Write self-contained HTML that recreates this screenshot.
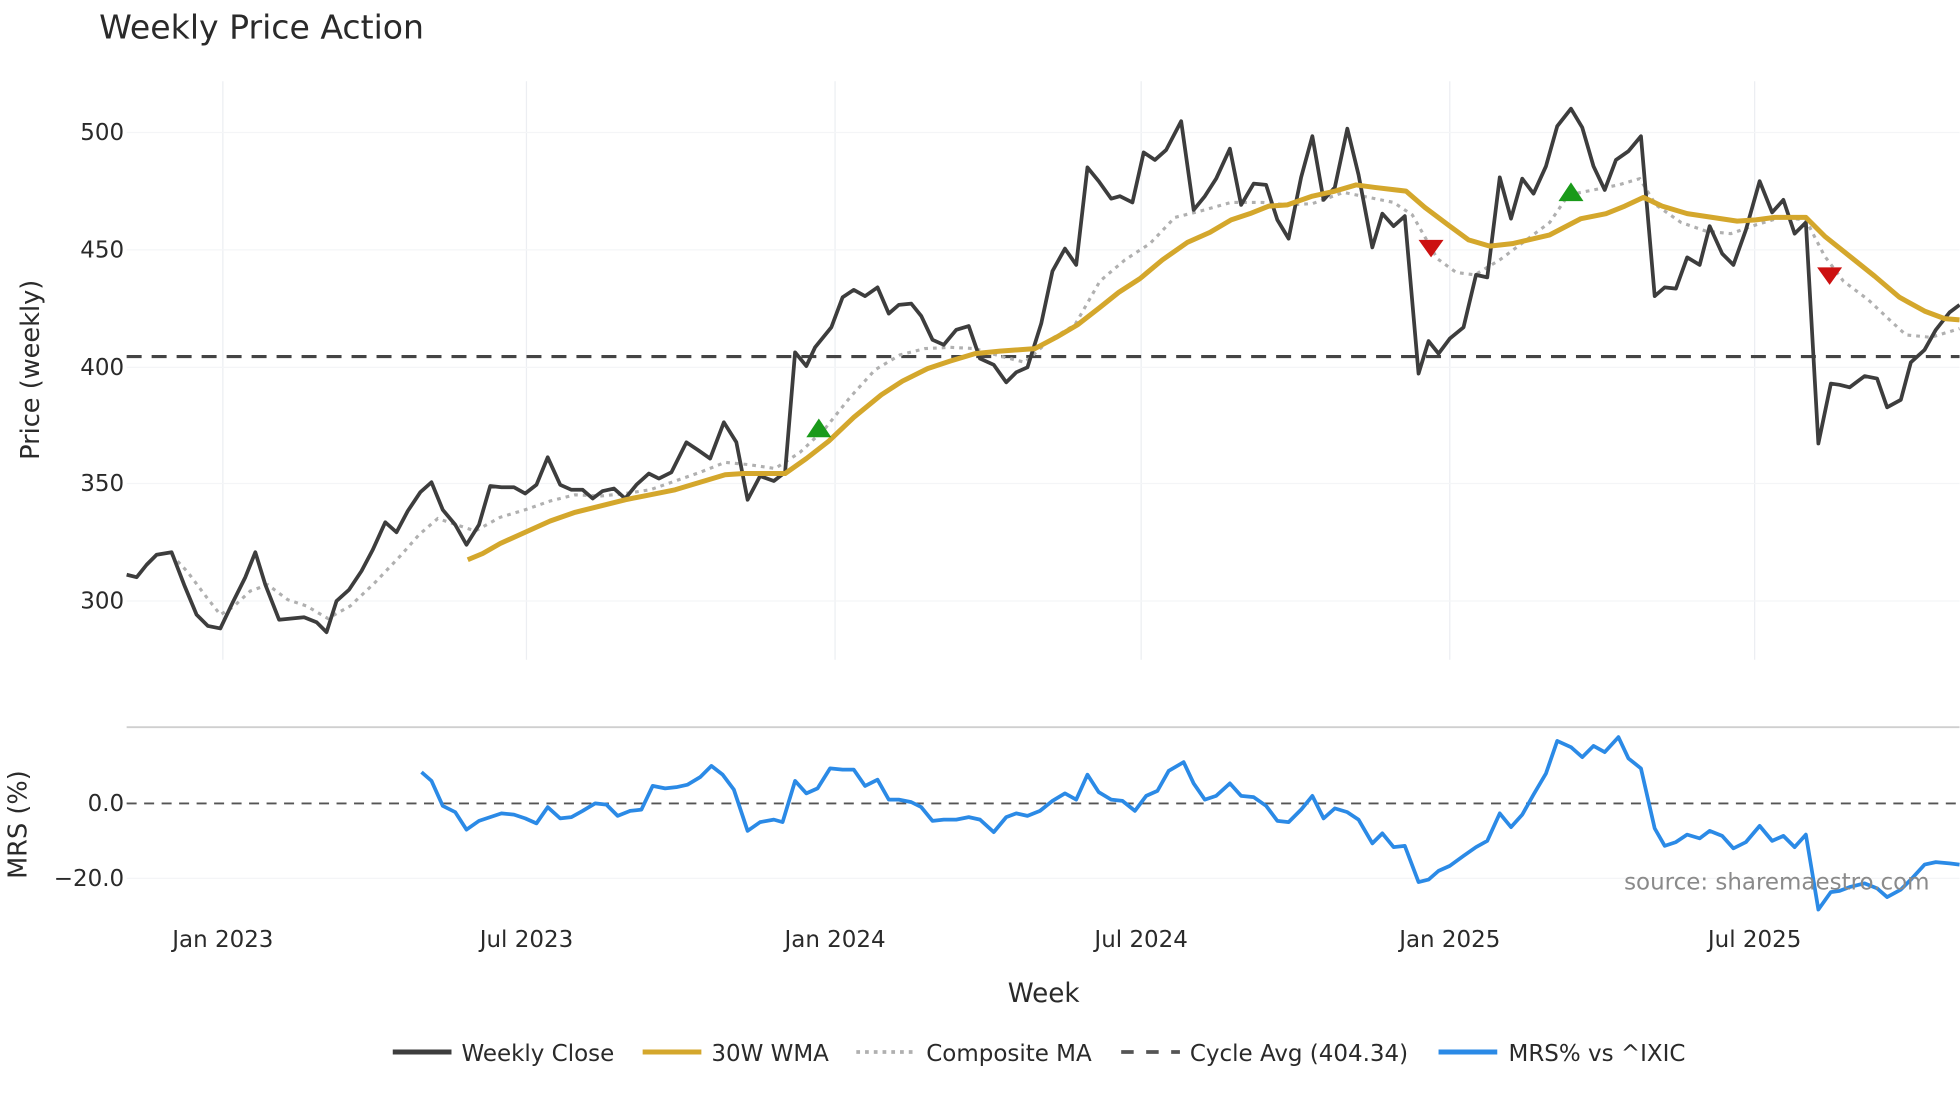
<!DOCTYPE html>
<html><head><meta charset="utf-8"><style>
html,body{margin:0;padding:0;background:#fff;}
svg{display:block;font-family:"DejaVu Sans","Liberation Sans",sans-serif;}
</style></head><body>
<svg width="1960" height="1102" viewBox="0 0 1568 882" xmlns="http://www.w3.org/2000/svg">
<rect width="1568" height="882" fill="#fff"/>
<text x="79" y="31" font-size="26.5" fill="#2a2a2a">Weekly Price Action</text>
<!-- grid -->
<g stroke="#eceef2" stroke-width="1">
<line x1="178" y1="65" x2="178" y2="528"/><line x1="421" y1="65" x2="421" y2="528"/>
<line x1="668" y1="65" x2="668" y2="528"/><line x1="913" y1="65" x2="913" y2="528"/>
<line x1="1160" y1="65" x2="1160" y2="528"/><line x1="1404" y1="65" x2="1404" y2="528"/>
</g>
<g stroke="#f4f5f7" stroke-width="1">
<line x1="101" y1="106" x2="1568" y2="106"/><line x1="101" y1="200" x2="1568" y2="200"/>
<line x1="101" y1="294" x2="1568" y2="294"/><line x1="101" y1="387" x2="1568" y2="387"/>
<line x1="101" y1="481" x2="1568" y2="481"/>
<line x1="101" y1="703" x2="1568" y2="703"/>
</g>
<line x1="101" y1="582" x2="1568" y2="582" stroke="#cfcfcf" stroke-width="1.5"/>
<!-- y labels -->
<g font-size="18.4" fill="#2a2a2a" text-anchor="end">
<text x="99" y="112">500</text><text x="99" y="206">450</text><text x="99" y="300">400</text>
<text x="99" y="393">350</text><text x="99" y="487">300</text>
<text x="99" y="649">0.0</text><text x="99" y="709">−20.0</text>
</g>
<text transform="translate(31,296) rotate(-90)" font-size="20.5" fill="#2a2a2a" text-anchor="middle">Price (weekly)</text>
<text transform="translate(21,660) rotate(-90)" font-size="20.5" fill="#2a2a2a" text-anchor="middle">MRS (%)</text>
<g font-size="18.4" fill="#2a2a2a" text-anchor="middle">
<text x="178" y="758">Jan 2023</text><text x="421" y="758">Jul 2023</text><text x="668" y="758">Jan 2024</text>
<text x="913" y="758">Jul 2024</text><text x="1160" y="758">Jan 2025</text><text x="1404" y="758">Jul 2025</text>
</g>
<text x="835" y="802" font-size="21" fill="#2a2a2a" text-anchor="middle">Week</text>
<!-- cycle avg -->
<line x1="101" y1="285.4" x2="1568" y2="285.4" stroke="#444" stroke-width="2.5" stroke-dasharray="12,8"/>
<line x1="101" y1="643" x2="1568" y2="643" stroke="#555" stroke-width="1.5" stroke-dasharray="8,6"/>
<!-- composite -->
<polyline fill="none" stroke="#b0b0b0" stroke-width="2.5" stroke-dasharray="3,4" points="137,444 150,458 165,478 176,492 186,486 200,473 214,468 230,480 245,485 262,495 280,485 300,466 320,445 335,428 350,415 365,420 380,425 400,414 420,408 440,401 460,396 480,397 500,395 520,392 540,385 560,378 580,370 600,372 620,375 640,362 660,343 680,318 700,296 720,284 740,279 760,278 780,279 800,285 820,290 840,272 860,260 880,225 900,208 920,195 940,174 960,169 985,162 1010,162 1030,164 1050,163 1075,154 1095,158 1115,162 1130,172 1150,207 1165,218 1180,220 1200,208 1220,193 1240,178 1255,156 1275,152 1295,148 1312,143 1325,164 1345,178 1365,185 1385,187 1405,180 1425,174 1445,176 1460,205 1475,225 1495,240 1512,256 1525,268 1545,270 1568,263"/>
<!-- close -->
<polyline fill="none" stroke="#3d3d3d" stroke-width="3" stroke-linejoin="round" points="101,460 109,462 117,452 125,444 137,442 147,468 157,492 166,501 176,503 186,482 196,462 204,442 212,468 223,496 233,495 243,494 253,498 261,506 269,481 279,472 289,457 298,440 308,418 317,426 326,409 336,394 345,386 354,408 364,420 373,436 383,420 392,389 401,390 411,390 420,395 429,388 438,366 448,388 457,392 466,392 474,399 482,393 491,391 500,399 509,388 519,379 527,383 537,378 549,354 558,360 568,367 579,338 589,354 598,400 608,381 619,385 628,378 636,282 645,293 652,278 665,262 674,238 683,232 692,237 702,230 711,251 719,244 729,243 737,253 746,272 755,276 765,264 775,261 784,287 795,292 805,306 813,298 822,294 833,259 842,217 852,199 861,212 870,134 879,145 889,159 896,157 906,162 915,122 924,128 933,120 945,97 955,168 964,157 973,143 984,119 993,164 1003,147 1013,148 1022,176 1031,191 1041,142 1050,109 1059,160 1068,150 1078,103 1087,140 1098,198 1106,171 1115,181 1124,173 1135,299 1143,273 1151,283 1160,271 1171,262 1181,220 1190,222 1200,142 1209,175 1218,143 1227,155 1237,133 1246,101 1257,87 1266,102 1275,133 1284,152 1293,128 1303,121 1313,109 1324,237 1332,230 1341,231 1350,206 1360,212 1368,181 1378,203 1387,212 1397,184 1408,145 1418,170 1427,160 1436,187 1445,178 1455,355 1465,307 1472,308 1480,310 1492,301 1502,303 1510,326 1521,320 1529,290 1540,280 1549,264 1560,250 1568,244"/>
<!-- WMA -->
<polyline fill="none" stroke="#d4a72c" stroke-width="4" stroke-linejoin="round" points="374,448 386,443 400,435 420,426 440,417 460,410 480,405 500,400 520,396 540,392 560,386 580,380 595,379 610,379 628,379 645,367 663,353 683,334 705,316 722,305 742,295 760,289 780,283 800,281 828,279 845,270 862,260 880,246 895,234 912,223 930,208 950,194 968,186 985,176 1000,171 1015,165 1030,164 1050,157 1068,153 1085,148 1100,150 1125,153 1140,166 1160,181 1175,192 1192,197 1210,195 1240,188 1265,175 1285,171 1300,165 1315,158 1330,165 1350,171 1370,174 1390,177 1405,176 1420,174 1445,174 1460,189 1480,205 1500,221 1520,238 1540,249 1556,255 1568,256"/>
<!-- markers -->
<polygon points="645,350 665,350 655,335" fill="#1a9a1a"/>
<polygon points="1247,161 1267,161 1257,146" fill="#1a9a1a"/>
<polygon points="1135,192 1155,192 1145,206" fill="#cc1111"/>
<polygon points="1454,214 1474,214 1464,228" fill="#cc1111"/>
<!-- MRS -->
<polyline fill="none" stroke="#2b8ae6" stroke-width="3" stroke-linejoin="round" points="337,618 345,625 354,645 364,650 373,664 383,657 392,654 401,651 411,652 420,655 429,659 438,646 448,655 457,654 466,649 476,643 485,644 494,653 504,649 513,648 522,629 532,631 541,630 550,628 560,622 569,613 578,620 587,632 598,665 608,658 619,656 626,658 636,625 645,635 654,631 664,615 674,616 683,616 692,629 702,624 711,640 719,640 729,642 737,646 746,657 755,656 765,656 775,654 784,656 795,666 805,654 813,651 822,653 832,649 842,641 852,635 861,640 870,620 879,634 889,640 898,641 908,649 917,637 926,633 935,617 947,610 955,627 964,640 973,637 984,627 993,637 1003,638 1013,645 1022,657 1031,658 1041,648 1050,637 1059,655 1068,647 1078,650 1087,656 1098,675 1106,667 1115,678 1124,677 1135,706 1143,704 1151,697 1160,693 1171,685 1181,678 1190,673 1200,651 1209,662 1218,652 1227,636 1237,619 1246,593 1257,598 1266,606 1275,597 1284,602 1295,590 1303,607 1313,615 1324,663 1332,677 1341,674 1350,668 1360,671 1368,665 1378,669 1387,679 1397,674 1408,661 1418,673 1427,669 1436,678 1445,668 1455,728 1465,714 1472,713 1480,710 1492,707 1502,711 1510,718 1521,712 1529,704 1540,692 1549,690 1560,691 1568,692"/>
<text x="1544" y="712" font-size="18.4" fill="#8a8a8a" text-anchor="end">source: sharemaestro.com</text>
<!-- legend -->
<g font-size="18.4" fill="#2a2a2a">
<line x1="314" y1="842" x2="361" y2="842" stroke="#3d3d3d" stroke-width="4"/><text x="369" y="849">Weekly Close</text>
<line x1="514" y1="842" x2="561" y2="842" stroke="#d4a72c" stroke-width="4"/><text x="569" y="849">30W WMA</text>
<line x1="685" y1="842" x2="732" y2="842" stroke="#b0b0b0" stroke-width="3" stroke-dasharray="3,4"/><text x="741" y="849">Composite MA</text>
<line x1="897" y1="842" x2="944" y2="842" stroke="#555" stroke-width="3" stroke-dasharray="10,10"/><text x="952" y="849">Cycle Avg (404.34)</text>
<line x1="1151" y1="842" x2="1198" y2="842" stroke="#2b8ae6" stroke-width="4"/><text x="1207" y="849">MRS% vs ^IXIC</text>
</g>
</svg>
</body></html>
